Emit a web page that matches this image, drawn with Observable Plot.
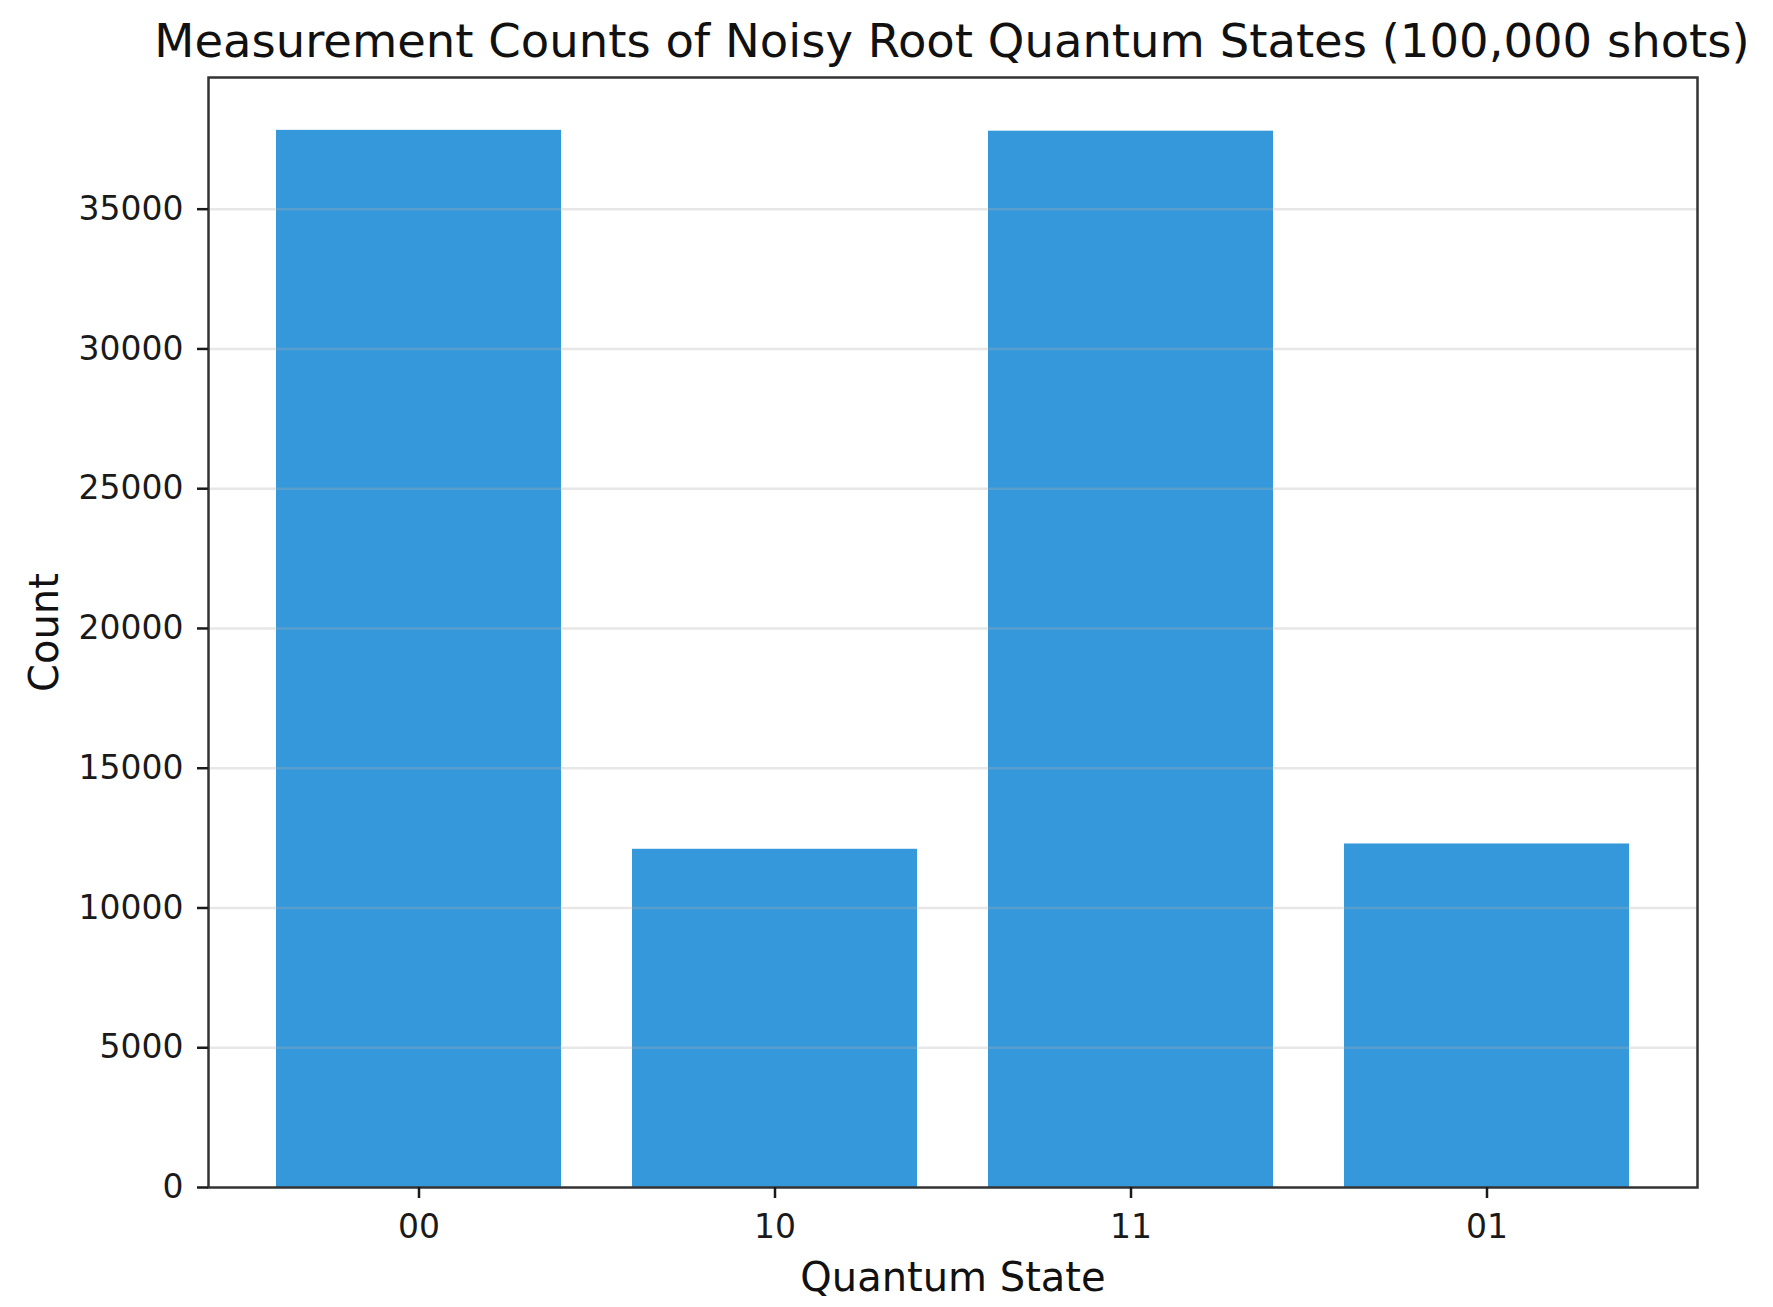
<!DOCTYPE html>
<html>
<head>
<meta charset="utf-8">
<script src="https://cdn.jsdelivr.net/npm/d3@7"></script>
<script src="https://cdn.jsdelivr.net/npm/@observablehq/plot@0.6"></script>
<style>
  html, body { margin: 0; padding: 0; background: #fff; }
  #wrap { position: relative; width: 1773px; height: 1307px; overflow: hidden; }
  #title {
    position: absolute; left: 952px; top: 0; transform: translateX(-50%);
    height: 70px; line-height: 82px; white-space: nowrap;
    font-family: "DejaVu Sans", sans-serif; font-size: 46.5px; color: #111;
  }
  #chart { position: absolute; left: 0; top: 70px; }
</style>
</head>
<body>
<div id="wrap">
  <div id="title">Measurement Counts of Noisy Root Quantum States (100,000 shots)</div>
  <div id="chart"></div>
</div>
<script>
const states = ["00", "10", "11", "01"];
const counts = [37820, 12100, 37790, 12290];
const yTicks = [0, 5000, 10000, 15000, 20000, 25000, 30000, 35000];
const yLabel = "Count";
const xLabel = "Quantum State";

const data = states.map((s, i) => ({state: s, count: counts[i]}));
const yMax = d3.max(counts) * 1.05;

const chart = Plot.plot({
  width: 1773,
  height: 1237,
  marginTop: 7,
  marginLeft: 208,
  marginRight: 76,
  marginBottom: 120,
  style: {fontFamily: "DejaVu Sans, sans-serif", fontSize: "33px", background: "#fff", color: "#1a1a1a"},
  x: {domain: states, paddingInner: 0.2, paddingOuter: 0.19, label: null},
  y: {domain: [0, yMax], label: null},
  marks: [
    Plot.barY(data, {x: "state", y: "count", fill: "#3498db"}),
    Plot.gridY(yTicks.slice(1), {stroke: "#b0b0b0", strokeOpacity: 0.3, strokeWidth: 2.5}),
    Plot.frame({stroke: "#333", strokeWidth: 2.5}),
    Plot.axisY(yTicks, {tickSize: 11, tickPadding: 14, strokeWidth: 2.5, label: null, tickFormat: d => String(d)}),
    Plot.axisX({tickSize: 11, tickPadding: 16, strokeWidth: 2.5, label: null}),
    Plot.text([yLabel], {text: d => d, frameAnchor: "left", textAnchor: "middle", rotate: -90, dx: -163, fontSize: 40, fill: "#111"}),
    Plot.text([xLabel], {text: d => d, frameAnchor: "bottom", dy: 103, fontSize: 40, fill: "#111"})
  ]
});
document.getElementById("chart").appendChild(chart);
</script>
</body>
</html>
